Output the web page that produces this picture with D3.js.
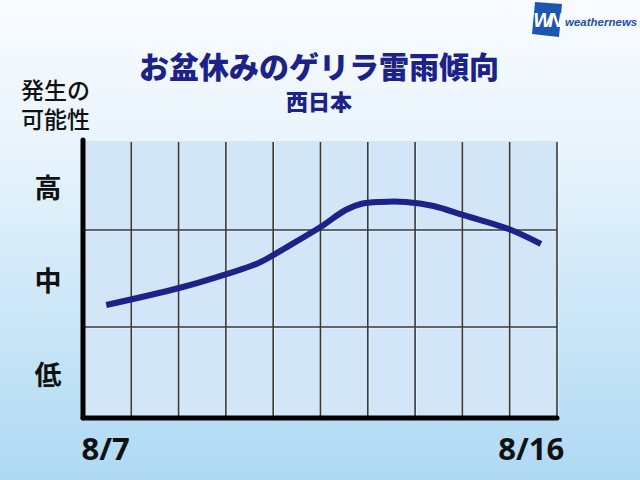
<!DOCTYPE html>
<html><head><meta charset="utf-8">
<script src="https://cdn.jsdelivr.net/npm/d3@7"></script>
<style>html,body{margin:0;padding:0;overflow:hidden;}svg{display:block;}</style>
</head><body>
<script>
// ---- data ----
const title = "お盆休みのゲリラ雷雨傾向";
const subtitle = "西日本";
const yTitleLines = ["発生の", "可能性"];
const days = ["8/7","8/8","8/9","8/10","8/11","8/12","8/13","8/14","8/15","8/16"];
const xTickLabels = ["8/7", "8/16"];
const levelLabels = ["低", "中", "高"];
// line position along the days (fractional day index) and level (0-3, grid at 1 and 2)
const trendDay =   [0.47, 2.01, 3.01, 3.69, 4.36, 5.0, 5.53, 5.85, 6.27, 6.80, 7.39, 8.01, 9.03, 9.66];
const trendLevel = [1.227, 1.402, 1.546, 1.66, 1.845, 2.034, 2.225, 2.292, 2.315, 2.315, 2.27, 2.169, 2.0, 1.856];

const W = 640, H = 480;
const svg = d3.select("body").append("svg").attr("width", W).attr("height", H);
const defs = svg.append("defs");
const g = defs.append("linearGradient").attr("id","bg").attr("x1",0).attr("y1",0).attr("x2",0).attr("y2",1);
g.append("stop").attr("offset","0%").attr("stop-color","#f9fcff");
g.append("stop").attr("offset","30%").attr("stop-color","#e9f4fc");
g.append("stop").attr("offset","100%").attr("stop-color","#aed9f3");
svg.append("rect").attr("width",W).attr("height",H).attr("fill","url(#bg)");

const pL = 84, pR = 557, pT = 141, pB = 418;
const x = d3.scaleLinear().domain([0, days.length]).range([pL, pR]);
const xb = d3.scaleBand().domain(days).range([pL, pR]);
const y = d3.scaleLinear().domain([0,1,2,3]).range([pB, 327, 230, pT]);

// plot background
svg.append("rect").attr("x",pL).attr("y",pT).attr("width",pR-pL).attr("height",pB-pT).attr("fill","#d3e6f7");

// grid
const grid = svg.append("g");
grid.selectAll("line.v").data(d3.range(1, days.length+1)).join("line")
  .attr("x1", d=>x(d)+1).attr("x2", d=>x(d)+1).attr("y1", pT+1).attr("y2", pB)
  .attr("stroke","#ffffff").attr("stroke-opacity",0.7).attr("stroke-width",1);
grid.selectAll("line.h2").data([1,2]).join("line")
  .attr("x1", pL).attr("x2", pR).attr("y1", d=>y(d)+1).attr("y2", d=>y(d)+1)
  .attr("stroke","#ffffff").attr("stroke-opacity",0.7).attr("stroke-width",1);
grid.selectAll("line.vv").data(d3.range(1, days.length+1)).join("line")
  .attr("x1", d=>x(d)).attr("x2", d=>x(d)).attr("y1", pT+1).attr("y2", pB)
  .attr("stroke","#3a3a3a").attr("stroke-width",1.6);
grid.selectAll("line.hh").data([1,2]).join("line")
  .attr("x1", pL).attr("x2", pR).attr("y1", d=>y(d)).attr("y2", d=>y(d))
  .attr("stroke","#3a3a3a").attr("stroke-width",1.6);

// trend line
const pts = trendDay.map((d,i)=>[d, trendLevel[i]]);
svg.append("path").datum(pts)
  .attr("d", d3.line().x(d=>x(d[0])).y(d=>y(d[1])).curve(d3.curveCatmullRom.alpha(0.5)))
  .attr("fill","none").attr("stroke","#1c2288").attr("stroke-width",6);

// axes
svg.append("line").attr("x1",83).attr("x2",83).attr("y1",140).attr("y2",pB)
  .attr("stroke","#000").attr("stroke-width",5).attr("stroke-linecap","round");
svg.append("line").attr("x1",83).attr("x2",pR).attr("y1",pB).attr("y2",pB)
  .attr("stroke","#000").attr("stroke-width",5).attr("stroke-linecap","round");

// level labels
svg.selectAll("text.lv").data(levelLabels).join("text")
  .attr("x", 48).attr("y", (d,i)=>y(i+0.5)+1)
  .attr("text-anchor","middle").attr("dominant-baseline","central")
  .attr("font-family","'Noto Sans CJK JP'").attr("font-weight",700).attr("font-size",27)
  .attr("fill","#111").text(d=>d);

// x tick labels
svg.selectAll("text.xt").data(xTickLabels).join("text")
  .attr("x", d=>xb(d)+xb.bandwidth()/2 - 2).attr("y", 460)
  .attr("text-anchor","middle")
  .attr("font-family","'Open Sans'").attr("font-weight",700).attr("font-size",31)
  .attr("fill","#111").text(d=>d);

// y title (one text, two lines)
const yt = svg.append("text")
  .attr("font-family","'Noto Sans CJK JP'").attr("font-weight",500).attr("font-size",23)
  .attr("fill","#111");
yt.selectAll("tspan").data(yTitleLines).join("tspan")
  .attr("x", 21).attr("y", (d,i)=>99 + i*29)
  .text(d=>d);

// title
svg.append("text").attr("x",319).attr("y",65).attr("text-anchor","middle").attr("dominant-baseline","central")
  .attr("font-family","'Noto Sans CJK JP'").attr("font-weight",900).attr("font-size",30)
  .attr("fill","#1c2288").text(title);
svg.append("text").attr("x",319).attr("y",100).attr("text-anchor","middle").attr("dominant-baseline","central")
  .attr("font-family","'Noto Sans CJK JP'").attr("font-weight",900).attr("font-size",22)
  .attr("fill","#1c2288").text(subtitle);

// logo
const logo = svg.append("g");
logo.append("path").attr("d","M535,2 L562,4 L559,37 L532,34 Z").attr("fill","#1d55b2");
logo.append("text").attr("x",546).attr("y",27).attr("text-anchor","middle")
  .attr("font-family","'Liberation Sans'").attr("font-style","italic").attr("font-weight",700)
  .attr("font-size",20).attr("fill","#fff").attr("letter-spacing",-4).text("WN");
logo.append("text").attr("x",565).attr("y",26)
  .attr("font-family","'Liberation Sans'").attr("font-style","italic").attr("font-weight",700)
  .attr("font-size",11.5).attr("fill","#1d4fa6").text("weathernews");
</script>
</body></html>
